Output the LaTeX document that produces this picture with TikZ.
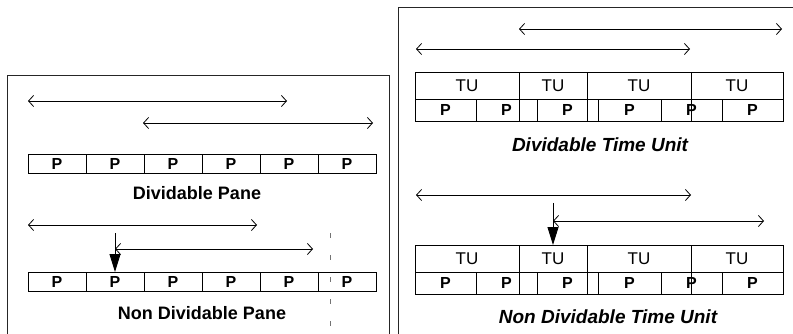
\documentclass[tikz,border=0pt]{standalone}
\usepackage{fontspec}
\setmainfont{Liberation Sans}
\usetikzlibrary{arrows.meta}
\begin{document}
\begin{tikzpicture}[x=1pt,y=-1pt,
  frame/.style={line width=0.9pt,draw=black!85},
  span/.style={line width=0.8pt,
    {Straight Barb[length=5pt,width=11pt]}-{Straight Barb[length=5pt,width=11pt]}},
  marker/.style={line width=0.9pt,-{Triangle[length=18pt,width=11pt]}},
  cellbase/.style={draw,line width=0.8pt,inner sep=0pt,outer sep=0pt,anchor=north west},
  pcell/.style={cellbase,minimum height=19pt,font=\bfseries\fontsize{16}{16}\selectfont},
  ppcell/.style={cellbase,minimum height=22pt,font=\bfseries\fontsize{16}{16}\selectfont},
  tucell/.style={cellbase,minimum height=27pt,font=\fontsize{17}{17}\selectfont},
  caption/.style={font=\bfseries\fontsize{18}{18}\selectfont},
  tcaption/.style={font=\bfseries\itshape\fontsize{19}{19}\selectfont}
]
\useasboundingbox (0,0) rectangle (793,334);

% panel frames
\draw[frame] (7.5,334) -- (7.5,75.7) -- (389,75.7) -- (389,334);
\draw[frame] (398,334) -- (398,7) -- (793,7);

% ---------- Dividable Pane ----------
\coordinate (a1l) at (28,101);  \coordinate (a1r) at (287,101);
\coordinate (a2l) at (143,123); \coordinate (a2r) at (373,123);
\draw[span] (a1l) -- (a1r);
\draw[span] (a2l) -- (a2r);
\foreach \i in {1,...,6}
  \node[pcell,minimum width=58pt] (a\i) at ({28+58*(\i-1)},154) {P};
\node[caption] (capA) at (197,193) {Dividable Pane};

% ---------- Non Dividable Pane ----------
\coordinate (b1l) at (28,225);  \coordinate (b1r) at (257,225);
\coordinate (b2l) at (115,249); \coordinate (b2r) at (313,249);
\coordinate (bm) at (115,233);
\foreach \i in {1,...,6}
  \node[pcell,minimum width=58pt] (b\i) at ({28+58*(\i-1)},272) {P};
\draw[span] (b1l) -- (b1r);
\draw[span] (b2l) -- (b2r);
\draw[marker] (bm) -- (b2.north);
\coordinate (cutT) at (330,233); \coordinate (cutB) at (330,334);
\draw[black!55,line width=0.6pt,dash pattern=on 5pt off 17pt] (cutT) -- (cutB);
\node[caption] (capB) at (202,313) {Non Dividable Pane};

% ---------- Dividable Time Unit ----------
\coordinate (c1l) at (519,29);  \coordinate (c1r) at (782,29);
\coordinate (c2l) at (416,49);  \coordinate (c2r) at (690,49);
\draw[span] (c1l) -- (c1r);
\draw[span] (c2l) -- (c2r);
\foreach \l/\r [count=\i] in {415/519,519/587,587/691,691/783}
  \node[tucell,minimum width={\r-\l}] (u\i) at (\l,72) {TU};
\foreach \l/\r [count=\i] in {415/476,476/537,537/598,598/661,661/722,722/783}
  \node[ppcell,minimum width={\r-\l}] (p\i) at (\l,99) {P};
\foreach \i in {2,3,4}
  \draw[line width=0.8pt] (u\i.south west) -- (u\i.south west |- p1.south);
\node[tcaption] (capC) at (600,145) {Dividable Time Unit};

% ---------- Non Dividable Time Unit ----------
\coordinate (d1l) at (416,195); \coordinate (d1r) at (691,195);
\coordinate (d2l) at (553,221); \coordinate (d2r) at (764,221);
\coordinate (dm) at (553,203);
\draw[span] (d1l) -- (d1r);
\draw[span] (d2l) -- (d2r);
\foreach \l/\r [count=\i] in {415/519,519/587,587/691,691/783}
  \node[tucell,minimum width={\r-\l}] (v\i) at (\l,245) {TU};
\foreach \l/\r [count=\i] in {415/476,476/537,537/598,598/661,661/722,722/783}
  \node[ppcell,minimum width={\r-\l}] (q\i) at (\l,272) {P};
\foreach \i in {2,3,4}
  \draw[line width=0.8pt] (v\i.south west) -- (v\i.south west |- q1.south);
\draw[marker] (dm) -- (v2.north);
\node[tcaption] (capD) at (608,317) {Non Dividable Time Unit};
\end{tikzpicture}
\end{document}
